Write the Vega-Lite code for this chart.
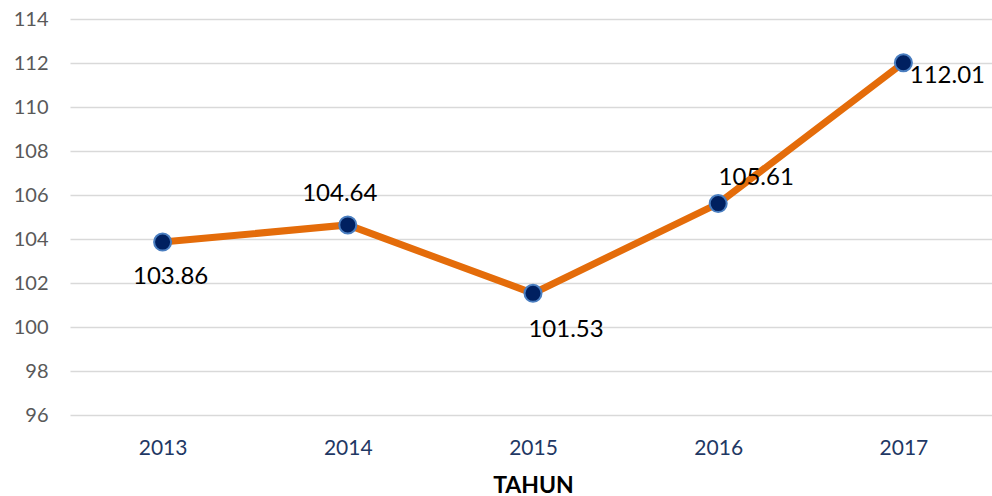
{
  "$schema": "https://vega.github.io/schema/vega-lite/v6.json",
  "width": 926,
  "height": 396,
  "autosize": {"type": "none"},
  "padding": {"left": 70, "top": 19, "right": 0, "bottom": 81},
  "background": "white",
  "config": {
    "view": {"stroke": null},
    "font": "Lato"
  },
  "data": {
    "values": [
      {"tahun": "2013", "nilai": 103.86},
      {"tahun": "2014", "nilai": 104.64},
      {"tahun": "2015", "nilai": 101.53},
      {"tahun": "2016", "nilai": 105.61},
      {"tahun": "2017", "nilai": 112.01}
    ]
  },
  "encoding": {
    "x": {
      "field": "tahun",
      "type": "ordinal",
      "scale": {"paddingInner": 0, "paddingOuter": 0.5},
      "axis": {
        "title": "TAHUN",
        "titleFont": "Lato",
        "titleFontSize": 23,
        "titleFontWeight": "bold",
        "titleColor": "#000000",
        "titlePadding": 16,
        "labelAngle": 0,
        "labelFont": "Lato",
        "labelFontSize": 21,
        "labelColor": "#1F3864",
        "labelPadding": 22,
        "domain": false,
        "ticks": false
      }
    },
    "y": {
      "field": "nilai",
      "type": "quantitative",
      "scale": {"domain": [96, 114], "nice": false, "zero": false},
      "axis": {
        "title": null,
        "values": [96, 98, 100, 102, 104, 106, 108, 110, 112, 114],
        "labelFont": "Lato",
        "labelFontSize": 20,
        "labelColor": "#595959",
        "labelPadding": 22,
        "domain": false,
        "ticks": false,
        "gridColor": "#D9D9D9",
        "gridWidth": 1.5
      }
    }
  },
  "layer": [
    {"mark": {"type": "line", "color": "#E46C0A", "strokeWidth": 7}},
    {"mark": {"type": "point", "filled": true, "fill": "#002060", "stroke": "#4A7EC0", "strokeWidth": 2, "size": 290, "opacity": 1}},
    {
      "transform": [{"filter": "datum.tahun == '2013'"}],
      "mark": {"type": "text", "fontSize": 24, "font": "Lato", "color": "#000000", "dx": 8, "dy": 35},
      "encoding": {"text": {"field": "nilai", "type": "quantitative", "format": ".2f"}}
    },
    {
      "transform": [{"filter": "datum.tahun == '2014'"}],
      "mark": {"type": "text", "fontSize": 24, "font": "Lato", "color": "#000000", "dx": -8, "dy": -31},
      "encoding": {"text": {"field": "nilai", "type": "quantitative", "format": ".2f"}}
    },
    {
      "transform": [{"filter": "datum.tahun == '2015'"}],
      "mark": {"type": "text", "fontSize": 24, "font": "Lato", "color": "#000000", "dx": 33, "dy": 37},
      "encoding": {"text": {"field": "nilai", "type": "quantitative", "format": ".2f"}}
    },
    {
      "transform": [{"filter": "datum.tahun == '2016'"}],
      "mark": {"type": "text", "fontSize": 24, "font": "Lato", "color": "#000000", "dx": 38, "dy": -26},
      "encoding": {"text": {"field": "nilai", "type": "quantitative", "format": ".2f"}}
    },
    {
      "transform": [{"filter": "datum.tahun == '2017'"}],
      "mark": {"type": "text", "fontSize": 24, "font": "Lato", "color": "#000000", "dx": 44, "dy": 13},
      "encoding": {"text": {"field": "nilai", "type": "quantitative", "format": ".2f"}}
    }
  ]
}
